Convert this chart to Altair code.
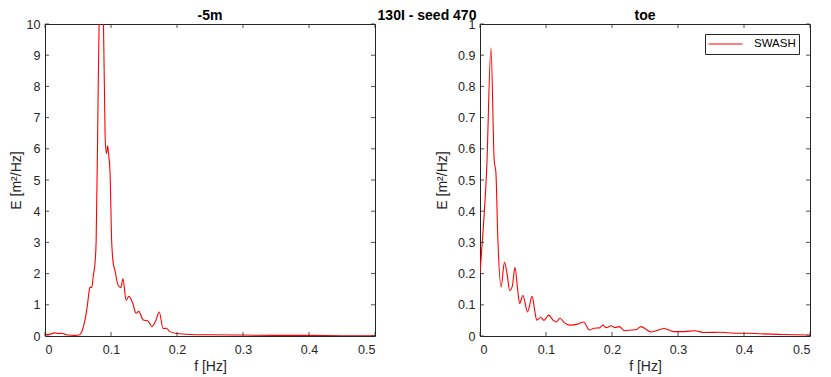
import altair as alt
import pandas as pd

# ---- data ----
f_5m = [0, 0.008, 0.015, 0.02, 0.025, 0.03, 0.035, 0.045, 0.052, 0.056,
        0.06, 0.064, 0.067, 0.068, 0.071, 0.073, 0.076, 0.0775, 0.08, 0.082,
        0.0855, 0.0886, 0.091, 0.093, 0.095, 0.096, 0.0985, 0.101, 0.103, 0.106,
        0.111, 0.115, 0.118, 0.123, 0.127, 0.133, 0.138, 0.142, 0.149, 0.156,
        0.162, 0.168, 0.173, 0.179, 0.184, 0.189, 0.2, 0.22, 0.25, 0.3,
        0.35, 0.4, 0.45, 0.5]
E_5m = [0.04, 0.06, 0.1, 0.08, 0.09, 0.06, 0.03, 0.02, 0.03, 0.15,
        0.45, 0.95, 1.45, 1.56, 1.56, 1.9, 2.4, 3.05, 6.86, 10.0,
        11.0, 10.0, 6.5, 5.85, 6.1, 5.9, 5.27, 3.05, 2.4, 2.1,
        1.62, 1.55, 1.83, 1.14, 1.27, 1.05, 0.73, 0.79, 0.51, 0.48,
        0.3, 0.5, 0.77, 0.24, 0.25, 0.14, 0.08, 0.05, 0.04, 0.03,
        0.02, 0.02, 0.01, 0.01]

f_toe = [0, 0.005, 0.01, 0.0166, 0.0216, 0.024, 0.027, 0.032, 0.037, 0.041,
         0.045, 0.049, 0.053, 0.057, 0.06, 0.065, 0.072, 0.079, 0.083,
         0.086, 0.092, 0.097, 0.104, 0.111, 0.116, 0.121, 0.128, 0.136, 0.148,
         0.157, 0.166, 0.173, 0.181, 0.186, 0.191, 0.199, 0.204, 0.211, 0.219,
         0.229, 0.237, 0.244, 0.252, 0.259, 0.279, 0.294, 0.309, 0.325, 0.34,
         0.365, 0.385, 0.405, 0.425, 0.455, 0.5]
E_toe = [0.2, 0.347, 0.527, 0.924, 0.56, 0.527, 0.315, 0.157, 0.236, 0.2,
         0.146, 0.16, 0.22, 0.15, 0.104, 0.13, 0.077, 0.127, 0.08,
         0.051, 0.06, 0.05, 0.067, 0.05, 0.045, 0.057, 0.042, 0.035, 0.038,
         0.045, 0.019, 0.025, 0.026, 0.035, 0.027, 0.033, 0.027, 0.03, 0.017,
         0.019, 0.021, 0.03, 0.021, 0.013, 0.024, 0.014, 0.014, 0.017, 0.011,
         0.012, 0.009, 0.009, 0.007, 0.005, 0.003]

x_ticks = [0, 0.1, 0.2, 0.3, 0.4, 0.5]
y_ticks_5m = [0, 1, 2, 3, 4, 5, 6, 7, 8, 9, 10]
y_ticks_toe = [0, 0.1, 0.2, 0.3, 0.4, 0.5, 0.6, 0.7, 0.8, 0.9, 1]

series_name = "SWASH"
panel_titles = ["-5m", "toe"]
super_title = "130I - seed 470"
x_title = "f [Hz]"
y_title = "E [m²/Hz]"

W, H = 330, 312
FONT = "Liberation Sans"
AX = "#262626"
RED = "#ff0000"
TICK = 4
TITLE_Y = -4.5


def panel(f, E, yticks, ymax, title, legend, ytitle_pad, extra_text=None):
    df = pd.DataFrame({"f": f, "E": E, "series": series_name})
    xenc = alt.X("f:Q", scale=alt.Scale(domain=[0, 0.5], nice=False, zero=False,
                                        padding=0),
                 axis=alt.Axis(values=x_ticks, format="~f", title=x_title))
    yenc = alt.Y("E:Q", scale=alt.Scale(domain=[0, ymax], nice=False, zero=False,
                                        padding=0),
                 axis=alt.Axis(values=yticks, format="~f", title=y_title,
                               titlePadding=ytitle_pad))
    if legend:
        color = alt.Color("series:N",
                          scale=alt.Scale(domain=[series_name], range=[RED]),
                          legend=alt.Legend(title=None, orient="none",
                                            legendX=660, legendY=10,
                                            symbolType="stroke", symbolSize=1156,
                                            symbolStrokeWidth=1, labelFont=FONT,
                                            labelFontSize=11.5, labelColor="#000000",
                                            strokeColor=AX, fillColor="white",
                                            padding=3, labelOffset=11,
                                            clipHeight=14,
                                            cornerRadius=0))
    else:
        color = alt.value(RED)
    line = alt.Chart(df).mark_line(clip=True, strokeWidth=1.1,
                                   interpolate="monotone").encode(
        x=xenc, y=yenc, color=color)

    xt = pd.DataFrame({"f": x_ticks})
    yt = pd.DataFrame({"E": yticks})
    rule = dict(color=AX, strokeWidth=0.8)
    tb = alt.Chart(xt).mark_rule(**rule).encode(x=xenc, y=alt.value(H), y2=alt.value(H - TICK))
    tt = alt.Chart(xt).mark_rule(**rule).encode(x=xenc, y=alt.value(0), y2=alt.value(TICK))
    tl = alt.Chart(yt).mark_rule(**rule).encode(y=yenc, x=alt.value(0), x2=alt.value(TICK))
    tr = alt.Chart(yt).mark_rule(**rule).encode(y=yenc, x=alt.value(W), x2=alt.value(W - TICK))

    ttl = alt.Chart(pd.DataFrame({"label": [title]})).mark_text(
        font=FONT, fontSize=14, fontWeight="bold", color="#000000",
        align="center", baseline="alphabetic").encode(
        text="label:N", x=alt.value(W / 2), y=alt.value(TITLE_Y))
    layers = [line, tb, tt, tl, tr, ttl]
    if extra_text is not None:
        st = alt.Chart(pd.DataFrame({"label": [extra_text]})).mark_text(
            font=FONT, fontSize=14, fontWeight="bold", color="#000000",
            align="center", baseline="alphabetic").encode(
            text="label:N", x=alt.value(382), y=alt.value(TITLE_Y))
        layers.append(st)
    return alt.layer(*layers).properties(width=W, height=H)


left = panel(f_5m, E_5m, y_ticks_5m, 10, panel_titles[0], False, 3, super_title)
right = panel(f_toe, E_toe, y_ticks_toe, 1, panel_titles[1], True, 8)

chart = alt.hconcat(left, right, spacing=105, bounds="flush").properties(
    padding={"left": 0, "top": 0, "right": 0, "bottom": 0}
).configure_view(stroke=AX, strokeWidth=1).configure_axis(
    grid=False, ticks=False, tickSize=0, domain=False,
    labelFont=FONT, labelFontSize=12.5, labelColor=AX,
    titleFont=FONT, titleFontSize=14, titleFontWeight="normal", titleColor=AX,
).configure_axisX(labelPadding=7, titlePadding=4).configure_axisY(
    labelPadding=5)

chart.save("out.html", embed_options={"renderer": "svg", "actions": False})
